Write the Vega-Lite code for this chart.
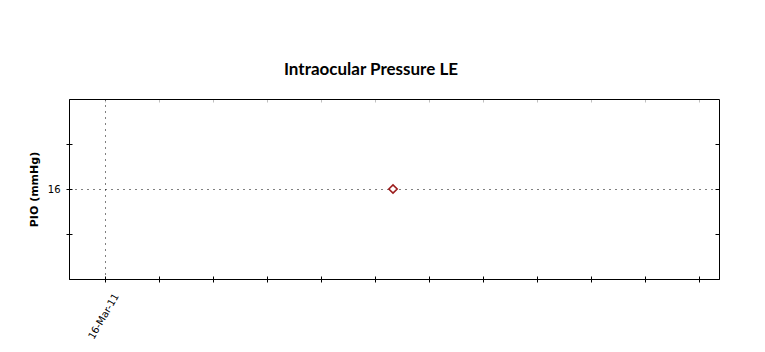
{
  "$schema": "https://vega.github.io/schema/vega-lite/v6.json",
  "autosize": "none",
  "width": 650,
  "height": 180,
  "padding": {"left": 69, "top": 99, "right": 46, "bottom": 73},
  "background": "white",
  "title": {
    "text": "Intraocular Pressure LE",
    "font": "Lato",
    "fontSize": 17,
    "fontWeight": "bold",
    "color": "#000000",
    "anchor": "middle",
    "dx": -23,
    "offset": 20
  },
  "config": {
    "view": {"stroke": "#000000", "strokeWidth": 1},
    "axis": {
      "labelFont": "DejaVu Sans",
      "labelFontSize": 10,
      "labelColor": "#000000",
      "titleFont": "DejaVu Sans",
      "domainColor": "#000000",
      "tickColor": "#000000"
    }
  },
  "data": {"values": [{"date": "2011-04-01", "pio": 16}]},
  "resolve": {"axis": {"x": "independent", "y": "independent"}},
  "layer": [
    {
      "mark": {"type": "point", "shape": "diamond", "size": 70, "filled": true, "fill": "white", "stroke": "#9b1c1c", "strokeWidth": 1.6, "opacity": 1},
      "encoding": {
        "x": {
          "field": "date",
          "type": "temporal",
          "scale": {"type": "utc", "domain": [{"year": 2011, "month": 3, "date": 14, "utc": true}, {"year": 2011, "month": 4, "date": 19, "hours": 2, "minutes": 40, "utc": true}]},
          "axis": {
            "orient": "bottom",
            "title": null,
            "values": [
              {"year": 2011, "month": 3, "date": 16, "utc": true},
              {"year": 2011, "month": 3, "date": 19, "utc": true},
              {"year": 2011, "month": 3, "date": 22, "utc": true},
              {"year": 2011, "month": 3, "date": 25, "utc": true},
              {"year": 2011, "month": 3, "date": 28, "utc": true},
              {"year": 2011, "month": 3, "date": 31, "utc": true},
              {"year": 2011, "month": 4, "date": 3, "utc": true},
              {"year": 2011, "month": 4, "date": 6, "utc": true},
              {"year": 2011, "month": 4, "date": 9, "utc": true},
              {"year": 2011, "month": 4, "date": 12, "utc": true},
              {"year": 2011, "month": 4, "date": 15, "utc": true},
              {"year": 2011, "month": 4, "date": 18, "utc": true}
            ],
            "labelExpr": "datum.index == 0 ? utcFormat(datum.value, '%d-%b-%y') : ''",
            "labelAngle": -60,
            "labelAlign": "right",
            "labelBaseline": "middle",
            "labelPadding": 12,
            "labelOffset": 11,
            "labelFlush": false,
            "labelOverlap": false,
            "tickSize": 3,
            "grid": true,
            "gridColor": "#000000",
            "gridDash": [1, 5],
            "gridOpacity": {"condition": {"test": "datum.index == 0", "value": 1}, "value": 0}
          }
        },
        "y": {
          "field": "pio",
          "type": "quantitative",
          "scale": {"domain": [14, 18], "nice": false, "zero": false},
          "axis": {
            "orient": "left",
            "title": "PIO (mmHg)",
            "titleFont": "DejaVu Sans",
            "titleFontSize": 11,
            "titleFontWeight": "bold",
            "titleColor": "#000000",
            "titlePadding": 8,
            "values": [15, 16, 17],
            "labelExpr": "datum.value == 16 ? datum.label : ''",
            "labelPadding": 6,
            "tickSize": 3,
            "grid": true,
            "gridColor": "#000000",
            "gridDash": [1, 5],
            "gridOpacity": {"condition": {"test": "datum.value == 16", "value": 1}, "value": 0}
          }
        }
      }
    },
    {
      "mark": {"type": "point", "opacity": 0},
      "encoding": {
        "x": {
          "field": "date",
          "type": "temporal",
          "axis": {
            "orient": "top",
            "title": null,
            "labels": false,
            "domain": false,
            "grid": false,
            "offset": -3,
            "tickSize": 3,
            "tickOpacity": 0.25,
            "values": [
              {"year": 2011, "month": 3, "date": 16, "utc": true},
              {"year": 2011, "month": 3, "date": 19, "utc": true},
              {"year": 2011, "month": 3, "date": 22, "utc": true},
              {"year": 2011, "month": 3, "date": 25, "utc": true},
              {"year": 2011, "month": 3, "date": 28, "utc": true},
              {"year": 2011, "month": 3, "date": 31, "utc": true},
              {"year": 2011, "month": 4, "date": 3, "utc": true},
              {"year": 2011, "month": 4, "date": 6, "utc": true},
              {"year": 2011, "month": 4, "date": 9, "utc": true},
              {"year": 2011, "month": 4, "date": 12, "utc": true},
              {"year": 2011, "month": 4, "date": 15, "utc": true},
              {"year": 2011, "month": 4, "date": 18, "utc": true}
            ]
          }
        },
        "y": {
          "field": "pio",
          "type": "quantitative",
          "axis": {
            "orient": "right",
            "title": null,
            "labels": false,
            "domain": false,
            "grid": false,
            "offset": -4,
            "tickSize": 4,
            "values": [15, 16, 17]
          }
        }
      }
    },
    {
      "mark": {"type": "point", "opacity": 0},
      "encoding": {
        "x": {
          "field": "date",
          "type": "temporal",
          "axis": {
            "orient": "bottom",
            "title": null,
            "labels": false,
            "domain": false,
            "grid": false,
            "offset": -3,
            "tickSize": 3,
            "values": [
              {"year": 2011, "month": 3, "date": 16, "utc": true},
              {"year": 2011, "month": 3, "date": 19, "utc": true},
              {"year": 2011, "month": 3, "date": 22, "utc": true},
              {"year": 2011, "month": 3, "date": 25, "utc": true},
              {"year": 2011, "month": 3, "date": 28, "utc": true},
              {"year": 2011, "month": 3, "date": 31, "utc": true},
              {"year": 2011, "month": 4, "date": 3, "utc": true},
              {"year": 2011, "month": 4, "date": 6, "utc": true},
              {"year": 2011, "month": 4, "date": 9, "utc": true},
              {"year": 2011, "month": 4, "date": 12, "utc": true},
              {"year": 2011, "month": 4, "date": 15, "utc": true},
              {"year": 2011, "month": 4, "date": 18, "utc": true}
            ]
          }
        },
        "y": {
          "field": "pio",
          "type": "quantitative",
          "axis": {
            "orient": "left",
            "title": null,
            "labels": false,
            "domain": false,
            "grid": false,
            "offset": -3,
            "tickSize": 3,
            "values": [15, 16, 17]
          }
        }
      }
    }
  ]
}
